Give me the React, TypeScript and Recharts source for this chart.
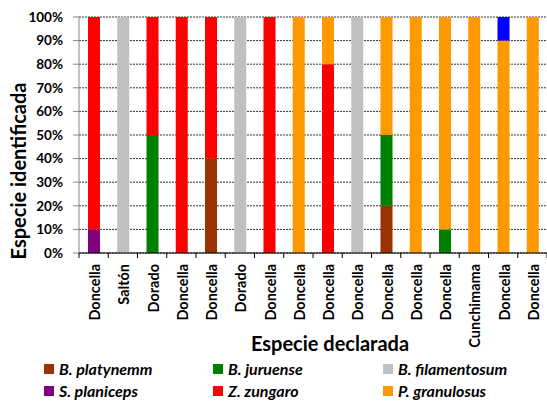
import React from 'react';
import { BarChart, Bar, XAxis, YAxis, CartesianGrid, Label } from 'recharts';

const categories = ['Doncella', 'Saltón', 'Dorado', 'Doncella', 'Doncella', 'Dorado', 'Doncella', 'Doncella', 'Doncella', 'Doncella', 'Doncella', 'Doncella', 'Doncella', 'Cunchimama', 'Doncella', 'Doncella'];

const platynemm = [0, 0, 0, 0, 40, 0, 0, 0, 0, 0, 20, 0, 0, 0, 0, 0];
const juruense = [0, 0, 50, 0, 0, 0, 0, 0, 0, 0, 30, 0, 10, 0, 0, 0];
const filamentosum = [0, 100, 0, 0, 0, 100, 0, 0, 0, 100, 0, 0, 0, 0, 0, 0];
const planiceps = [10, 0, 0, 0, 0, 0, 0, 0, 0, 0, 0, 0, 0, 0, 0, 0];
const zungaro = [90, 0, 50, 100, 60, 0, 100, 0, 80, 0, 0, 0, 0, 0, 0, 0];
const granulosus = [0, 0, 0, 0, 0, 0, 0, 100, 20, 0, 50, 100, 90, 100, 90, 100];
const otra = [0, 0, 0, 0, 0, 0, 0, 0, 0, 0, 0, 0, 0, 0, 10, 0];

const yTicks = [0, 10, 20, 30, 40, 50, 60, 70, 80, 90, 100];

const series = [
    { key: 'platynemm', name: 'B. platynemm', color: '#993300', values: platynemm },
    { key: 'juruense', name: 'B. juruense', color: '#008000', values: juruense },
    { key: 'filamentosum', name: 'B. filamentosum', color: '#C0C0C0', values: filamentosum },
    { key: 'planiceps', name: 'S. planiceps', color: '#800080', values: planiceps },
    { key: 'zungaro', name: 'Z. zungaro', color: '#FF0000', values: zungaro },
    { key: 'granulosus', name: 'P. granulosus', color: '#FF9900', values: granulosus },
    { key: 'otra', name: 'Otra', color: '#0000FF', values: otra },
];

const data = categories.map((c, i) => {
    const row: Record<string, string | number> = { cat: c, idx: i };
    series.forEach(s => { row[s.key] = s.values[i]; });
    return row;
});

const FONT = 'Lato, "Open Sans", sans-serif';
const BAND = 468 / categories.length;

const XTick = (props: any) => {
    const { x, y, payload, index } = props;
    return (
        <g>
            {index === 0 && <line x1={x - BAND / 2} x2={x - BAND / 2} y1={y - 8} y2={y - 3} stroke="#000" />}
            <line x1={x + BAND / 2} x2={x + BAND / 2} y1={y - 8} y2={y - 3} stroke="#000" />
            <text
                x={x + 1}
                y={y + 3}
                transform={`rotate(-90, ${x + 1}, ${y + 3})`}
                textAnchor="end"
                dominantBaseline="central"
                fontSize={14.5}
                fontWeight="bold"
                fill="#000"
                fontFamily={FONT}
            >
                {categories[payload.value] ?? payload.value}
            </text>
        </g>
    );
};

const legendItems = series.filter(s => s.key !== 'otra');

const App: React.FC = () => {
    return (
        <div style={{ position: 'absolute', left: 0, top: 0, width: 547, height: 401, background: '#fff', fontFamily: FONT }}>
            <BarChart
                width={547}
                height={401}
                data={data}
                margin={{ top: 17, right: 0, left: 29, bottom: 0 }}
                barSize={12}
            >
                <CartesianGrid vertical={false} stroke="#333" strokeDasharray="2 1" />
                <XAxis
                    dataKey="idx"
                    type="category"
                    height={148}
                    interval={0}
                    tick={<XTick />}
                    tickLine={false}
                    axisLine={{ stroke: '#000' }}
                >
                    <Label
                        content={() => (
                            <text x={330} y={343} textAnchor="middle" dominantBaseline="central" fontSize={20} fontWeight="bold" fill="#000" fontFamily={FONT}>
                                Especie declarada
                            </text>
                        )}
                    />
                </XAxis>
                <YAxis
                    width={50}
                    domain={[0, 100]}
                    ticks={yTicks}
                    interval={0}
                    tickSize={6}
                    tickMargin={10}
                    tickLine={{ stroke: '#888' }}
                    axisLine={{ stroke: '#888' }}
                    tick={{ fill: '#000', fontSize: 13.5, fontWeight: 'bold', fontFamily: FONT }}
                    tickFormatter={(v: number) => `${v}%`}
                >
                    <Label
                        content={() => (
                            <text x={18} y={171} transform="rotate(-90, 18, 171)" textAnchor="middle" dominantBaseline="central" fontSize={20} fontWeight="bold" fill="#000" fontFamily={FONT}>
                                Especie identificada
                            </text>
                        )}
                    />
                </YAxis>
                {series.map(s => (
                    <Bar key={s.key} dataKey={s.key} name={s.name} stackId="a" fill={s.color} isAnimationActive={false} legendType={s.key === 'otra' ? 'none' : 'square'} />
                ))}
            </BarChart>
            {legendItems.map((s, i) => {
                const col = i % 3;
                const row = Math.floor(i / 3);
                const left = [44, 213, 383][col];
                const top = [359, 381][row];
                return (
                    <div key={s.key} style={{ position: 'absolute', left, top, display: 'flex', alignItems: 'center', height: 19 }}>
                        <div style={{ width: 10, height: 10, background: s.color, marginRight: 5 }} />
                        <span style={{ fontSize: 16, fontWeight: 'bold', fontStyle: 'italic', color: '#000', whiteSpace: 'nowrap' }}>{s.name}</span>
                    </div>
                );
            })}
        </div>
    );
};

export default App;
